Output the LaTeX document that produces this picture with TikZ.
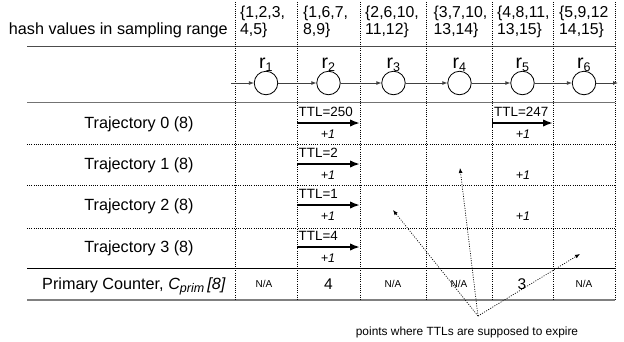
\documentclass[tikz,border=0pt]{standalone}
\usepackage{fontspec}
\setmainfont{Liberation Sans}
\usetikzlibrary{arrows.meta}
\tikzset{
  x=1pt, y=-1pt,
  main/.style={font=\fontsize{16.2}{18}\selectfont, inner sep=0pt, anchor=base},
  setlbl/.style={font=\fontsize{15.8}{18}\selectfont, inner sep=0pt, anchor=base west},
  rlbl/.style={font=\fontsize{19.5}{22}\selectfont, inner sep=0pt, anchor=base},
  ttl/.style={font=\fontsize{13.4}{15}\selectfont, inner sep=0pt, anchor=base west},
  plusone/.style={font=\fontsize{12.5}{15}\selectfont\itshape, inner sep=0pt},
  na/.style={font=\fontsize{10}{12}\selectfont, inner sep=0pt},
  big/.style={font=\fontsize{15.5}{18}\selectfont, inner sep=0pt},
  grid/.style={line width=0.7pt, dash pattern=on 0.9pt off 1.3pt},
  router/.style={circle, draw, line width=0.8pt, minimum size=23.5pt, inner sep=0pt},
  flow/.style={draw=black!75, line width=0.8pt, -{Latex[length=5pt,width=4pt]}},
  ttlarrow/.style={line width=2.5pt, -{Latex[length=10pt,width=7.5pt]}},
  note/.style={line width=0.7pt, dash pattern=on 1pt off 1.4pt, -{Latex[length=5pt,width=4pt]}}
}
\begin{document}
\begin{tikzpicture}
\useasboundingbox (0,0) rectangle (624,341);

% column boundaries
\def\xa{235}\def\xb{297}\def\xc{360}\def\xd{426.5}\def\xe{492}\def\xf{553}\def\xg{615}

% horizontal rules
\draw[black!70, line width=0.9pt] (27,46) -- (\xg,46);
\draw[black!55, line width=0.9pt] (27,102) -- (\xg,102);
\foreach \y in {144,185,228} \draw[grid] (27,\y) -- (\xg,\y);
\draw[black, line width=0.9pt] (27,268) -- (\xg,268);
\draw[black!50, line width=1.6pt] (27,300) -- (\xg,300);

% vertical dotted column separators
\foreach \x in {\xa,\xb,\xc,\xd,\xe,\xf,\xg} \draw[grid] (\x,2) -- (\x,300);

% header row
\node[main, anchor=base east] (hash) at (228,34) {hash values in sampling range};
\node[setlbl] (s1a) at (\xa+5,17) {\{1,2,3,};
\node[setlbl] (s1b) at (\xa+5,34) {4,5\}};
\node[setlbl] (s2a) at (\xb+6,17) {\{1,6,7,};
\node[setlbl] (s2b) at (\xb+6,34) {8,9\}};
\node[setlbl] (s3a) at (\xc+5,17) {\{2,6,10,};
\node[setlbl] (s3b) at (\xc+5,34) {11,12\}};
\node[setlbl] (s4a) at (\xd+7,17) {\{3,7,10,};
\node[setlbl] (s4b) at (\xd+7,34) {13,14\}};
\node[setlbl] (s5a) at (\xe+5,17) {\{4,8,11,};
\node[setlbl] (s5b) at (\xe+5,34) {13,15\}};
\node[setlbl] (s6a) at (\xf+6,17) {\{5,9,12};
\node[setlbl] (s6b) at (\xf+6,34) {14,15\}};

% routers along the path
\foreach \i/\x in {1/266,2/328.5,3/393.5,4/459.5,5/522.5,6/584} {
  \node[router] (c\i) at (\x,83) {};
  \node[rlbl] (r\i) at (\x,68) {r\textsubscript{\fontsize{12.5}{14}\selectfont\i}};
}
\coordinate (pin) at (231,83);
\coordinate (pout) at (618,83);
\draw[flow] (pin) -- (c1);
\draw[flow] (c1) -- (c2);
\draw[flow] (c2) -- (c3);
\draw[flow] (c3) -- (c4);
\draw[flow] (c4) -- (c5);
\draw[flow] (c5) -- (c6);
\draw[flow] (c6) -- (pout);

% trajectory labels
\node[main] (t0) at (139,128.5) {Trajectory 0 (8)};
\node[main] (t1) at (139,169.5) {Trajectory 1 (8)};
\node[main] (t2) at (139,210.5) {Trajectory 2 (8)};
\node[main] (t3) at (139,252.5) {Trajectory 3 (8)};
\node[main] (pc) at (134,289) {Primary Counter, \textit{C\textsubscript{\fontsize{12.5}{14}\selectfont prim}\,[8]}};

% TTL arrows
\coordinate (a0s) at (\xb,123); \coordinate (a0e) at (\xc,123);
\coordinate (b0s) at (\xe,123); \coordinate (b0e) at (\xf,123);
\coordinate (a1s) at (\xb,164); \coordinate (a1e) at (\xc,164);
\coordinate (a2s) at (\xb,205); \coordinate (a2e) at (\xc,205);
\coordinate (a3s) at (\xb,247); \coordinate (a3e) at (\xc,247);
\draw[ttlarrow] (a0s) -- (a0e);
\draw[ttlarrow] (b0s) -- (b0e);
\draw[ttlarrow] (a1s) -- (a1e);
\draw[ttlarrow] (a2s) -- (a2e);
\draw[ttlarrow] (a3s) -- (a3e);
\draw[line width=0.8pt] (\xe,118) -- (\xe,128);

\node[ttl] (ttl0) at (\xb+1.5,116) {TTL=250};
\node[ttl] (ttl0b) at (\xe+2,116) {TTL=247};
\node[ttl] (ttl1) at (\xb+1.5,157) {TTL=2};
\node[ttl] (ttl2) at (\xb+1.5,198) {TTL=1};
\node[ttl] (ttl3) at (\xb+1.5,240) {TTL=4};

\node[plusone] (p0) at (328,134) {+1};
\node[plusone] (p0b) at (523,134) {+1};
\node[plusone] (p1) at (328,175) {+1};
\node[plusone] (p1b) at (523,175) {+1};
\node[plusone] (p2) at (328,216.5) {+1};
\node[plusone] (p2b) at (523,216.5) {+1};
\node[plusone] (p3) at (328,258) {+1};

% primary counter values
\node[na] (n1) at (264,284) {N/A};
\node[big] (v2) at (328.5,284) {4};
\node[na] (n3) at (393,284) {N/A};
\node[na] (n4) at (459,284) {N/A};
\node[big] (v5) at (522,284) {3};
\node[na] (n6) at (584,284) {N/A};

% expiry annotation
\node[font=\fontsize{11.9}{14}\selectfont, inner sep=0pt] (cap) at (467,332) {points where TTLs are supposed to expire};
\coordinate (src) at (478,316);
\coordinate (e1) at (393,210);
\coordinate (e2) at (460,168);
\coordinate (e3) at (580,254);
\draw[note] (src) -- (e1);
\draw[note] (src) -- (e2);
\draw[note] (src) -- (e3);
\end{tikzpicture}
\end{document}
